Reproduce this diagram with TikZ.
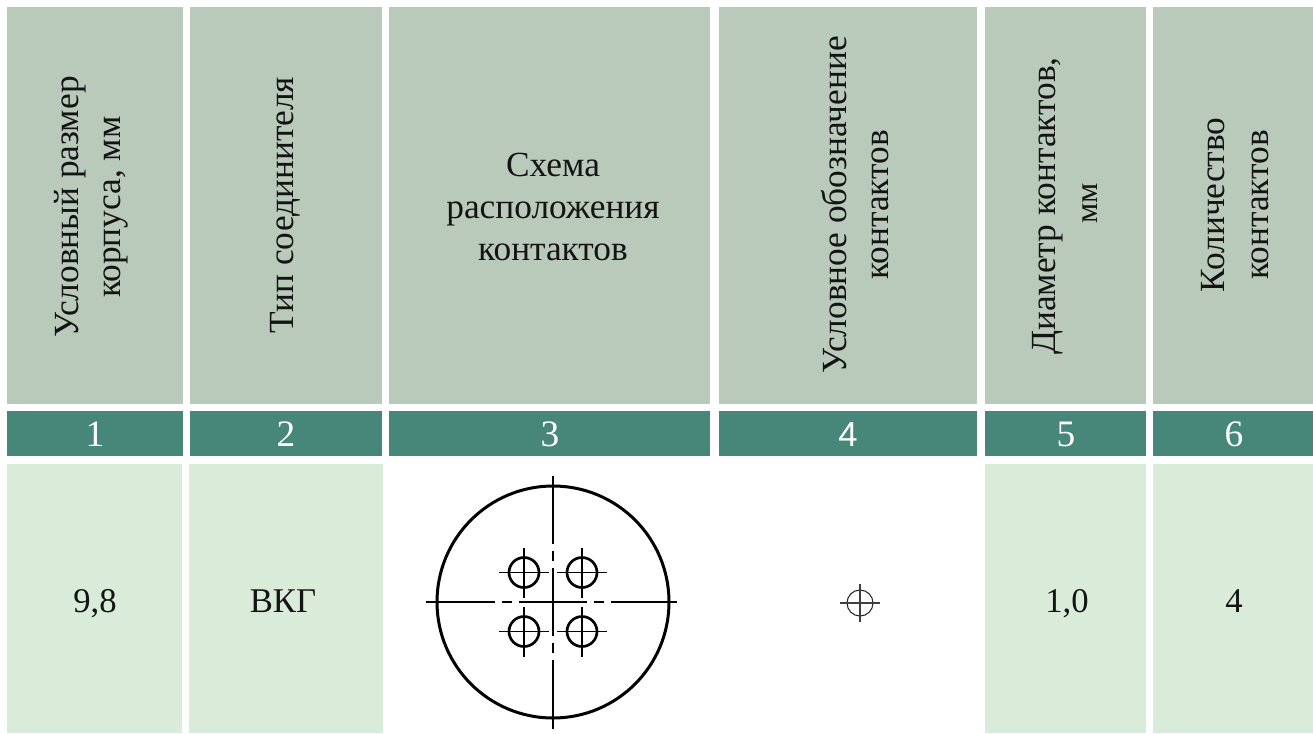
\documentclass[tikz,border=0pt]{standalone}
\usepackage{fontspec}
\setmainfont{Liberation Serif}
\newfontfamily\sansnum{Liberation Sans}
\definecolor{hdrfill}{RGB}{185,202,187}
\definecolor{numfill}{RGB}{71,135,122}
\definecolor{datfill}{RGB}{217,235,217}
\definecolor{txt}{RGB}{20,20,20}
\begin{document}
\begin{tikzpicture}[x=0.75pt,y=-0.75pt,
  cellbox/.style={inner sep=0pt,outer sep=0pt,anchor=north west,draw=none},
  hdrcell/.style={cellbox,fill=hdrfill},
  numcell/.style={cellbox,fill=numfill},
  datcell/.style={cellbox,fill=datfill},
  hdrtext/.style={text=txt,align=center,inner sep=0pt,font=\fontsize{26.5}{31.5}\selectfont},
  vtext/.style={hdrtext,rotate=90},
  numtext/.style={text=white,inner sep=0pt,anchor=base,font=\fontsize{28}{31}\selectfont},
  dattext/.style={text=txt,inner sep=0pt,anchor=base,font=\fontsize{26}{31}\selectfont},
  thickline/.style={line width=2.25pt,draw=black},
  axisline/.style={line width=1pt,draw=black},
  contact/.style={line width=2pt,draw=black},
  thinline/.style={line width=0.9pt,draw=black}
]
\useasboundingbox (0,0) rectangle (1313,733);
\fill[white] (0,0) rectangle (1313,733);
% header row
\node[hdrcell,minimum width=132pt,minimum height=297.75pt] (h1) at (7,7) {};
\node[hdrcell,minimum width=144pt,minimum height=297.75pt] (h2) at (190,7) {};
\node[hdrcell,minimum width=240.75pt,minimum height=297.75pt] (h3) at (389,7) {};
\node[hdrcell,minimum width=193.5pt,minimum height=297.75pt] (h4) at (719,7) {};
\node[hdrcell,minimum width=120.75pt,minimum height=297.75pt] (h5) at (985,7) {};
\node[hdrcell,minimum width=120pt,minimum height=297.75pt] (h6) at (1153,7) {};
% number row
\node[numcell,minimum width=132pt,minimum height=33.75pt] (n1) at (7,411) {};
\node[numcell,minimum width=144pt,minimum height=33.75pt] (n2) at (190,411) {};
\node[numcell,minimum width=240.75pt,minimum height=33.75pt] (n3) at (389,411) {};
\node[numcell,minimum width=193.5pt,minimum height=33.75pt] (n4) at (719,411) {};
\node[numcell,minimum width=120.75pt,minimum height=33.75pt] (n5) at (985,411) {};
\node[numcell,minimum width=120pt,minimum height=33.75pt] (n6) at (1153,411) {};
% data row
\node[datcell,minimum width=131.25pt,minimum height=201.75pt] (d1) at (7,464) {};
\node[datcell,minimum width=145.5pt,minimum height=201.75pt] (d2) at (189,464) {};
\node[datcell,minimum width=120.75pt,minimum height=201.75pt] (d5) at (985,464) {};
\node[datcell,minimum width=120pt,minimum height=201.75pt] (d6) at (1153,464) {};
% header texts
\node[vtext] (t1) at (91,207) {Условный размер\\корпуса, мм};
\node[vtext] (t2) at (285,205) {Тип соединителя};
\node[hdrtext] (t3) at (553,207) {Схема\\расположения\\контактов};
\node[vtext] (t4) at (855,205) {Условное обозначение\\контактов};
\node[hdrtext,rotate=90,anchor=center] (t5a) at (1048,206) {Диаметр контактов,};
\node[hdrtext,rotate=90,anchor=center,font=\fontsize{24}{28}\selectfont] (t5b) at (1090,203) {мм};
\node[vtext,font=\fontsize{26.5}{33}\selectfont] (t6) at (1235,205) {Количество\\контактов};
% numbers
\node[numtext] (k1) at (95,446) {1};
\node[numtext] (k2) at (286,446) {2};
\node[numtext] (k3) at (550,446) {3};
\node[numtext,font=\sansnum\fontsize{26}{30}\selectfont] (k4) at (848,446) {4};
\node[numtext] (k5) at (1066,446) {5};
\node[numtext] (k6) at (1234,446) {6};
% data values
\node[dattext] (v1) at (95,612) {9,8};
\node[dattext] (v2) at (283,612) {ВКГ};
\node[dattext] (v5) at (1067,612) {1,0};
\node[dattext] (v6) at (1234,612) {4};
% connector scheme
\coordinate (c) at (553,602);
\draw[thickline] (c) circle[radius=87pt];
\begin{scope}[shift={(c)}]
  \draw[axisline] (-127,0) -- (-58,0);
  \draw[axisline] (-51,0) -- (-41,0);
  \draw[axisline] (-34,0) -- (34,0);
  \draw[axisline] (41,0) -- (51,0);
  \draw[axisline] (58,0) -- (124,0);
  \draw[axisline] (0,-126) -- (0,-58);
  \draw[axisline] (0,-51) -- (0,-41);
  \draw[axisline] (0,-34) -- (0,34);
  \draw[axisline] (0,41) -- (0,51);
  \draw[axisline] (0,58) -- (0,127);
  \foreach \px/\py in {-29/-29.5, 29/-29.5, -29/29.5, 29/29.5}{
    \draw[contact] (\px,\py) circle[radius=11.25pt];
    \draw[thinline] (\px-25,\py) -- (\px+25,\py);
    \draw[thinline] (\px,\py-25) -- (\px,\py+25);
  }
\end{scope}
% contact symbol
\coordinate (s) at (860,603);
\draw[line width=0.8pt,draw=black!85] (s) circle[radius=9.75pt];
\begin{scope}[shift={(s)}]
  \draw[line width=0.8pt,draw=black!75] (-20,0) -- (20,0);
  \draw[line width=0.8pt,draw=black!75] (0,-19) -- (0,19);
\end{scope}
\end{tikzpicture}
\end{document}
